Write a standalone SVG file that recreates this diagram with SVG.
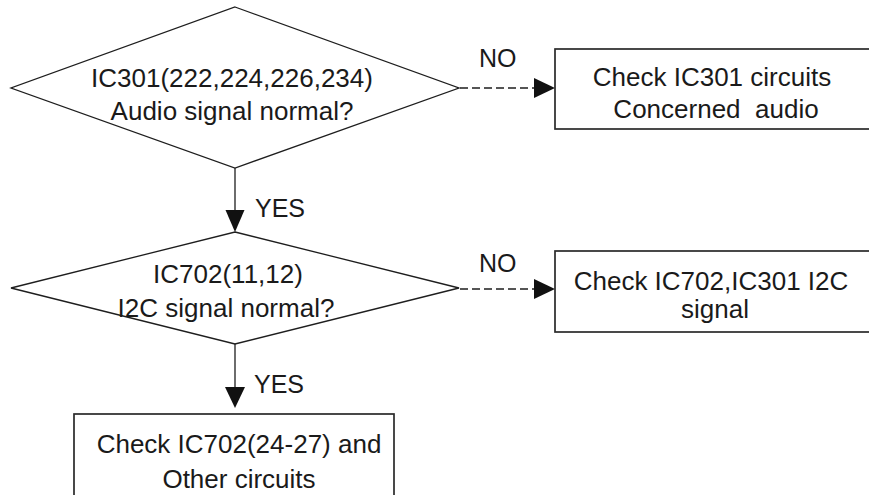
<svg xmlns="http://www.w3.org/2000/svg" width="869" height="495" viewBox="0 0 869 495">
<style>
.shape{fill:#fff;stroke:#1e1e1e;stroke-width:1.3}
.box{fill:#fff;stroke:#2a2a2a;stroke-width:1.7}
.t{font-family:"Liberation Sans",Arial,sans-serif;font-size:26px;fill:#1a1a1a;text-anchor:middle;white-space:pre}
.lbl{font-family:"Liberation Sans",Arial,sans-serif;font-size:25px;fill:#1a1a1a}
.solid{stroke:#1e1e1e;stroke-width:1.3;fill:none}
.dash{stroke:#1e1e1e;stroke-width:1.3;fill:none;stroke-dasharray:8 4}
.head{fill:#111}
</style>
<rect width="869" height="495" fill="#fff"/>
<g id="connectors">
  <line class="solid" x1="235" y1="168" x2="235" y2="212"/>
  <polygon class="head" points="225.5,210 244.5,210 235,232"/>
  <text class="lbl" x="255" y="217">YES</text>
  <line class="solid" x1="235" y1="344" x2="235" y2="389"/>
  <polygon class="head" points="225,387 245,387 235,408"/>
  <text class="lbl" x="254" y="393">YES</text>
  <line class="dash" x1="460" y1="88" x2="536" y2="88"/>
  <polygon class="head" points="534,78 534,98 555,88"/>
  <text class="lbl" x="479" y="67">NO</text>
  <line class="dash" x1="460" y1="289" x2="536" y2="289"/>
  <polygon class="head" points="534,279 534,299 555,289"/>
  <text class="lbl" x="479" y="272">NO</text>
</g>
<g id="decision1">
  <polygon class="shape" points="235,7 459,88 235,168 11,88"/>
  <text class="t" x="232" y="87">IC301(222,224,226,234)</text>
  <text class="t" x="232" y="120">Audio signal normal?</text>
</g>
<g id="decision2">
  <polygon class="shape" points="235,232 459,288 235,344 11,288"/>
  <text class="t" x="228" y="283">IC702(11,12)</text>
  <text class="t" x="226" y="317">I2C signal normal?</text>
</g>
<g id="box1">
  <rect class="box" x="555" y="49" width="330" height="80"/>
  <text class="t" x="712" y="86">Check IC301 circuits</text>
  <text class="t" x="716" y="118">Concerned  audio</text>
</g>
<g id="box2">
  <rect class="box" x="555" y="251" width="330" height="81"/>
  <text class="t" x="711" y="290">Check IC702,IC301 I2C</text>
  <text class="t" x="715" y="318">signal</text>
</g>
<g id="box3">
  <rect class="box" x="74" y="414" width="320" height="100"/>
  <text class="t" x="239" y="453">Check IC702(24-27) and</text>
  <text class="t" x="239" y="488">Other circuits</text>
</g>
</svg>
